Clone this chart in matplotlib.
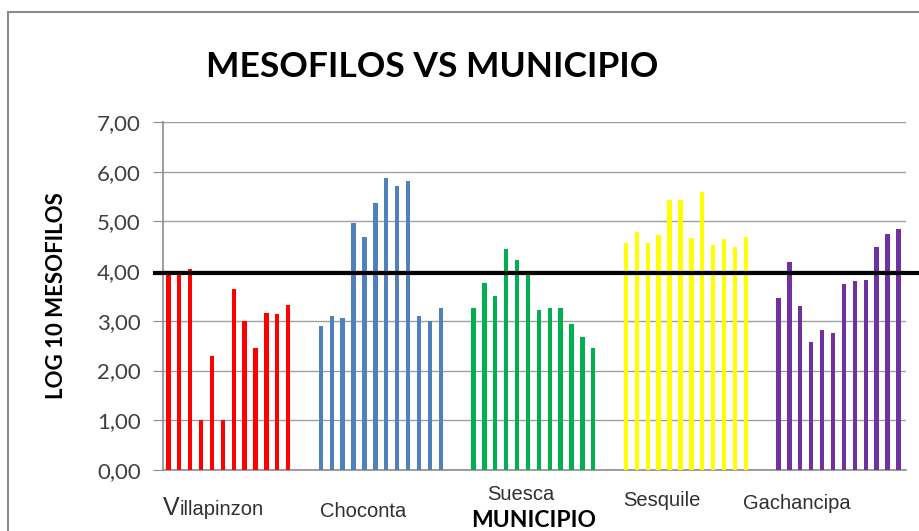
"""Mesofilos vs municipio: log10 counts per sample, grouped by municipality."""

import matplotlib
matplotlib.use('Agg')
import matplotlib.pyplot as plt
import matplotlib.transforms as mtransforms
from matplotlib.patches import Rectangle

# --- data ---
municipios = ['Villapinzon', 'Choconta', 'Suesca', 'Sesquile', 'Gachancipa']
villapinzon = [3.93, 3.93, 4.05, 1.00, 2.29, 1.00, 3.65, 2.99, 2.46, 3.15, 3.13, 3.31]
choconta = [2.90, 3.10, 3.05, 4.96, 4.69, 5.37, 5.88, 5.72, 5.82, 3.10, 2.99, 3.25]
suesca = [3.25, 3.77, 3.50, 4.45, 4.22, 3.93, 3.22, 3.25, 3.25, 2.93, 2.68, 2.45]
sesquile = [4.57, 4.78, 4.57, 4.72, 5.44, 5.44, 4.67, 5.59, 4.52, 4.65, 4.49, 4.69]
gachancipa = [3.45, 4.18, 3.30, 2.58, 2.82, 2.75, 3.75, 3.80, 3.83, 4.49, 4.75, 4.85]
series = [villapinzon, choconta, suesca, sesquile, gachancipa]
colors = ['#FF0000', '#4F81BD', '#00B050', '#FFFF00', '#7030A0']
limite = 3.96          # reference line drawn across the chart
y_ticks = [0, 1, 2, 3, 4, 5, 6, 7]

GROUP_STEP = 14        # slots per municipality (12 bars + gap)
BAR_W = 0.4

fig = plt.figure(figsize=(9.2, 5.31), dpi=100)
fig.patch.set_facecolor('white')
ax = fig.add_axes([163 / 920, 1 - 470 / 531, 743 / 920, 348 / 531])

for g, (vals, col) in enumerate(zip(series, colors)):
    xs = [g * GROUP_STEP + i for i in range(len(vals))]
    ax.bar(xs, vals, width=BAR_W, color=col, zorder=3)

ax.set_xlim(-0.49, 67.7)
ax.set_ylim(0, 7)
ax.set_yticks(y_ticks)
ax.set_yticklabels([f'{v:.2f}'.replace('.', ',') for v in y_ticks],
                   fontfamily='Lato', fontsize=16, color='#404040')
ax.tick_params(axis='y', length=7, color='#8c8c8c', pad=9)
ax.set_xticks([])
ax.grid(axis='y', color='#a0a0a0', lw=1, zorder=0)
for side in ['top', 'right']:
    ax.spines[side].set_visible(False)
for side in ['left', 'bottom']:
    ax.spines[side].set_color('#8c8c8c')
    ax.spines[side].set_linewidth(1.2)

# thick black reference line, running past the plot area
ax.axhline(limite, xmin=-0.011, xmax=1.02, color='black', lw=3, clip_on=False, zorder=4)

# municipality labels, placed loosely as in the original
blend = mtransforms.blended_transform_factory(ax.transData, ax.transAxes)
lab_font = dict(fontfamily='Liberation Sans', fontsize=14.5, color='#303030')
label_pos = [(-0.49, -0.129), (13.9, -0.136), (29.3, -0.086), (41.7, -0.103), (52.7, -0.113)]
for name, (lx, ly) in zip(municipios, label_pos):
    if name == 'Villapinzon':
        vtext = ax.text(lx, ly, name[0], transform=blend, va='baseline', ha='left',
                        fontfamily='Liberation Sans', fontsize=18, color='#303030')
        ax.annotate(name[1:], xy=(1, ly), xycoords=(vtext, blend),
                    va='baseline', ha='left', **lab_font)
    else:
        ax.text(lx, ly, name, transform=blend, va='baseline', ha='left', **lab_font)

ax.text(33.5, -0.163, 'MUNICIPIO', transform=blend, ha='center', va='baseline',
        fontfamily='Lato', fontweight='bold', fontsize=16.5, color='black')
fig.text(57 / 920, 1 - 296 / 531, 'LOG 10 MESOFILOS', rotation=90, ha='center', va='center',
         fontfamily='Lato', fontweight='bold', fontsize=16, color='black')
fig.text(432 / 920, 1 - 77 / 531, 'MESOFILOS VS MUNICIPIO', ha='center', va='baseline',
         fontfamily='Lato', fontweight='bold', fontsize=25.5, color='black')

# chart frame (only left and top edges fall inside the crop)
fig.add_artist(Rectangle((8 / 920, -0.2), 1.2, 1.2 - 12 / 531, transform=fig.transFigure,
                         fill=False, edgecolor='#8c8c8c', lw=1.5))

fig.savefig('out.png', dpi=100)
